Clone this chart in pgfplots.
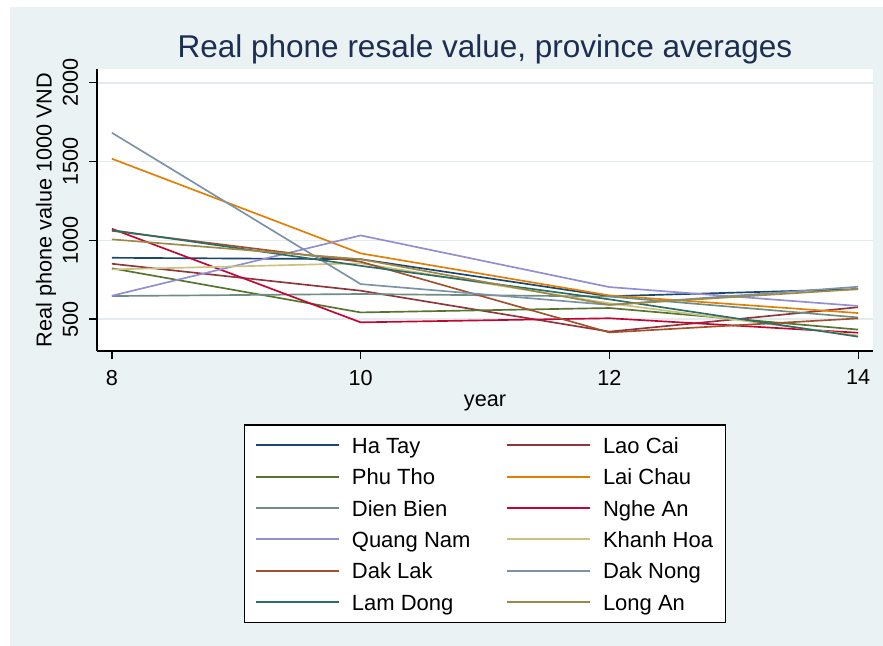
\documentclass[border=0pt]{standalone}
\usepackage{pgfplots}
\pgfplotsset{compat=1.18}
\usepackage{fontspec}
\setmainfont{Liberation Sans}

% Stata s2color palette
\definecolor{stbg}{RGB}{234,242,243}
\definecolor{sttitle}{RGB}{28,46,82}
\definecolor{stgrid}{RGB}{226,235,238}
\definecolor{cnavy}{RGB}{26,71,111}
\definecolor{cmaroon}{RGB}{144,53,59}
\definecolor{cforest}{RGB}{85,117,47}
\definecolor{cdkorange}{RGB}{227,126,0}
\definecolor{cteal}{RGB}{110,142,132}
\definecolor{ccranberry}{RGB}{193,5,52}
\definecolor{clavender}{RGB}{147,141,210}
\definecolor{ckhaki}{RGB}{202,194,126}
\definecolor{csienna}{RGB}{160,82,45}
\definecolor{cemidblue}{RGB}{123,146,168}
\definecolor{cemerald}{RGB}{45,109,102}
\definecolor{cbrown}{RGB}{156,136,71}

\begin{document}
\begin{tikzpicture}
% page = 883 x 646 px at 0.6pt per px
\fill[white] (0,0) rectangle (529.8pt,-387.6pt);
\fill[stbg] (6pt,-4.2pt) rectangle (529.8pt,-387.6pt);
\begin{axis}[
  at={(58.2pt,-210.6pt)},
  anchor=south west,
  scale only axis,
  width=465.6pt,
  height=169.2pt,
  xmin=7.88, xmax=14.12,
  ymin=297, ymax=2088,
  xtick={8,10,12,14},
  ytick={500,1000,1500,2000},
  axis background/.style={fill=white},
  axis x line*=bottom,
  axis y line*=left,
  axis line style={-,black,line width=1pt},
  tick align=outside,
  major tick length=4.8pt,
  tick style={black,line width=0.7pt},
  ymajorgrids=true,
  grid style={stgrid,line width=0.9pt},
  /pgf/number format/assume math mode=true,
  /pgf/number format/1000 sep={},
  tick label style={font=\fontsize{13}{15}\selectfont},
  yticklabel style={rotate=90,anchor=south},
  yticklabel shift=3pt,
  xticklabel shift=3pt,
  title={Real phone resale value, province averages},
  title style={at={(0.5,1)},anchor=center,yshift=6pt,
    font=\fontsize{18.9}{22}\selectfont,text=sttitle},
  xlabel={year},
  xlabel style={at={(axis description cs:0.5,-0.185)},anchor=center,
    font=\fontsize{13}{15}\selectfont},
  ylabel={Real phone value 1000 VND},
  ylabel style={at={(axis description cs:-0.0657,0.5)},anchor=center,rotate=0,
    font=\fontsize{13}{15}\selectfont},
  legend columns=2,
  legend cell align=left,
  legend image code/.code={\draw[#1,line width=1.2pt] (0pt,0pt) -- (49.8pt,0pt);},
  legend style={
    at={(0.5,-0.259)},
    anchor=north,
    draw=black,
    line width=0.9pt,
    fill=white,
    inner xsep=6.5pt,
    inner ysep=4pt,
    font=\fontsize{13.2}{15}\selectfont,
    nodes={inner sep=1pt,text height=12.2pt,text depth=2.4pt},
    row sep=2.2pt,
    /tikz/every odd column/.append style={column sep=6pt},
    /tikz/every even column/.append style={column sep=20.5pt},
  },
  every axis plot/.append style={line width=1pt},
]
\addplot[cnavy] coordinates {(8,889) (10,880) (12,645) (14,690)};
\addlegendentry{Ha Tay}
\addplot[cmaroon] coordinates {(8,851) (10,680) (12,420) (14,575)};
\addlegendentry{Lao Cai}
\addplot[cforest] coordinates {(8,822) (10,542) (12,570) (14,433)};
\addlegendentry{Phu Tho}
\addplot[cdkorange] coordinates {(8,1518) (10,917) (12,650) (14,538)};
\addlegendentry{Lai Chau}
\addplot[cteal] coordinates {(8,646) (10,659) (12,643) (14,510)};
\addlegendentry{Dien Bien}
\addplot[ccranberry] coordinates {(8,1073) (10,479) (12,505) (14,413)};
\addlegendentry{Nghe An}
\addplot[clavender] coordinates {(8,648) (10,1031) (12,703) (14,583)};
\addlegendentry{Quang Nam}
\addplot[ckhaki] coordinates {(8,815) (10,854) (12,600) (14,395)};
\addlegendentry{Khanh Hoa}
\addplot[csienna] coordinates {(8,1060) (10,864) (12,415) (14,504)};
\addlegendentry{Dak Lak}
\addplot[cemidblue] coordinates {(8,1683) (10,722) (12,590) (14,705)};
\addlegendentry{Dak Nong}
\addplot[cemerald] coordinates {(8,1065) (10,838) (12,625) (14,388)};
\addlegendentry{Lam Dong}
\addplot[cbrown] coordinates {(8,1006) (10,880) (12,590) (14,690)};
\addlegendentry{Long An}
\end{axis}
\end{tikzpicture}
\end{document}
